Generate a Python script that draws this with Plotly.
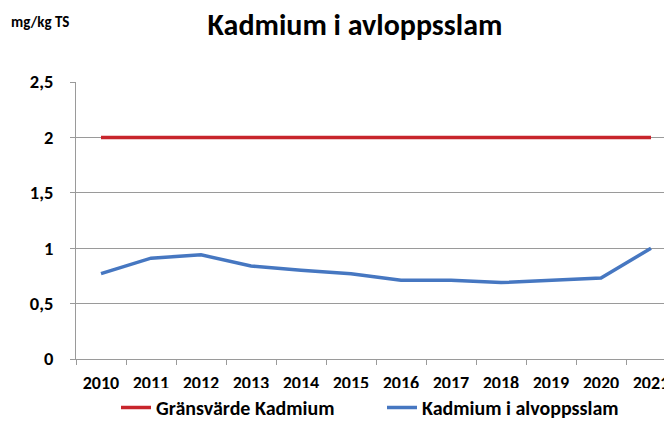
import plotly.graph_objects as go

years = ["2010", "2011", "2012", "2013", "2014", "2015", "2016", "2017", "2018", "2019", "2020", "2021"]
limit_values = [2, 2, 2, 2, 2, 2, 2, 2, 2, 2, 2, 2]
cadmium_values = [0.77, 0.91, 0.94, 0.84, 0.80, 0.77, 0.71, 0.71, 0.69, 0.71, 0.73, 1.00]
y_ticks = [0, 0.5, 1, 1.5, 2, 2.5]

FONT = "Carlito, 'Liberation Sans Narrow', 'DejaVu Sans Condensed', 'Liberation Sans', sans-serif"
GRID = "#9a9a9a"

# The page body has an 8px margin, so the figure is 8px smaller than the window.
W, H = 664, 419
OFF = 8

fig = go.Figure()
fig.add_trace(go.Scatter(x=years, y=limit_values, mode="lines", name="Gränsvärde Kadmium",
                         line=dict(color="#C8252C", width=3.5)))
fig.add_trace(go.Scatter(x=years, y=cadmium_values, mode="lines", name="Kadmium i alvoppsslam",
                         line=dict(color="#4677C1", width=3.5)))

plot_h = 359.3 - 82
plot_w = W - (76 - OFF)
fig.update_layout(
    width=W, height=H,
    margin=dict(l=76 - OFF, r=0, t=82 - OFF, b=H - (359.3 - OFF), autoexpand=False),
    paper_bgcolor="white", plot_bgcolor="white",
    separators=", ",
    font=dict(family=FONT, color="black", size=14, weight="bold"),
    title=dict(text="Kadmium i avloppsslam", x=(355 - OFF) / W, xanchor="center",
               y=1 - (24 - OFF) / H, yanchor="middle", yref="container",
               font=dict(family=FONT, size=30, color="black", weight="bold")),
    showlegend=True,
    legend=dict(orientation="h", xref="container", x=(116 - OFF) / W, xanchor="left",
                yref="container", y=-0.012, yanchor="bottom",
                font=dict(family=FONT, size=20, color="black", weight="bold"),
                entrywidth=221, entrywidthmode="pixels", traceorder="normal"),
    annotations=[dict(text="mg/kg TS", xref="paper", yref="paper",
                      x=(40 - 76) / plot_w, y=(359.3 - 22) / plot_h, xanchor="center", yanchor="middle",
                      showarrow=False, font=dict(family=FONT, size=15, color="black", weight="bold"))],
)
fig.update_xaxes(type="category", range=[-0.5, -0.5 + plot_w / 50], showgrid=False, automargin=False,
                 showline=True, linecolor=GRID, linewidth=1, tickangle=0,
                 ticks="outside", tickson="boundaries", ticklen=5, tickcolor=GRID,
                 tickfont=dict(family=FONT, size=18, color="black", weight="bold"),
                 ticklabelstandoff=7)
fig.update_yaxes(range=[0, 2.5], tickvals=y_ticks, showgrid=True, gridcolor=GRID, gridwidth=1,
                 automargin=False,
                 showline=True, linecolor=GRID, linewidth=1, zeroline=False,
                 ticks="outside", ticklen=5, tickcolor=GRID,
                 tickfont=dict(family=FONT, size=18.5, color="black", weight="bold"),
                 ticklabelstandoff=13)

fig.write_html("out.html")
